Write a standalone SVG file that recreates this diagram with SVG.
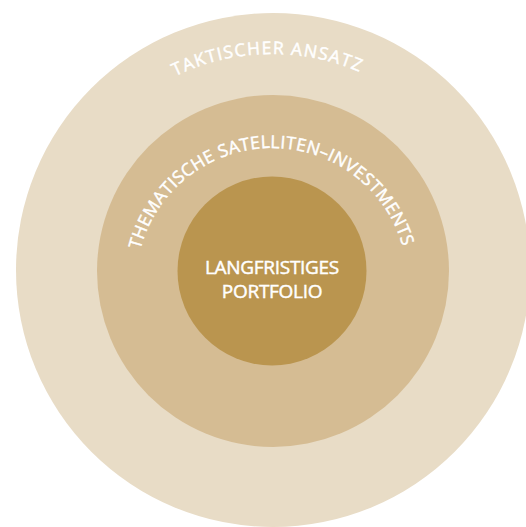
<svg xmlns="http://www.w3.org/2000/svg" width="526" height="527" viewBox="0 0 526 527">
  <style>
    .lbl { font-family: "Open Sans", "Noto Sans", "Liberation Sans", sans-serif; fill: #ffffff; stroke: #ffffff; stroke-width: 0.45px; }
    .arc { font-size: 17.5px; }
    .core { font-size: 19px; text-anchor: middle; letter-spacing: -0.3px; }
  </style>
  <defs>
    <path id="arcOuter" d="M 50 276 A 222 222 0 0 1 494 276" fill="none"/>
    <path id="arcMiddle" d="M 136 284 A 136 136 0 0 1 408 284" fill="none"/>
  </defs>
  <rect width="526" height="527" fill="#ffffff"/>
  <g id="taktischer-ansatz">
    <circle cx="273" cy="270" r="257" fill="#e8dcc6"/>
    <text class="lbl arc" letter-spacing="1.3"><textPath href="#arcOuter" startOffset="344" text-anchor="middle">TAKTISCHER ANSATZ</textPath></text>
  </g>
  <g id="thematische-satelliten-investments">
    <circle cx="273" cy="271" r="176" fill="#d5bc93"/>
    <text class="lbl arc" letter-spacing="0.4"><textPath href="#arcMiddle" startOffset="212" text-anchor="middle">THEMATISCHE SATELLITEN–INVESTMENTS</textPath></text>
  </g>
  <g id="langfristiges-portfolio">
    <circle cx="272" cy="271" r="94.5" fill="#ba954f"/>
    <text class="lbl core" x="272" y="274">LANGFRISTIGES</text>
    <text class="lbl core" x="272" y="298">PORTFOLIO</text>
  </g>
  <g id="connectors"/>
</svg>
